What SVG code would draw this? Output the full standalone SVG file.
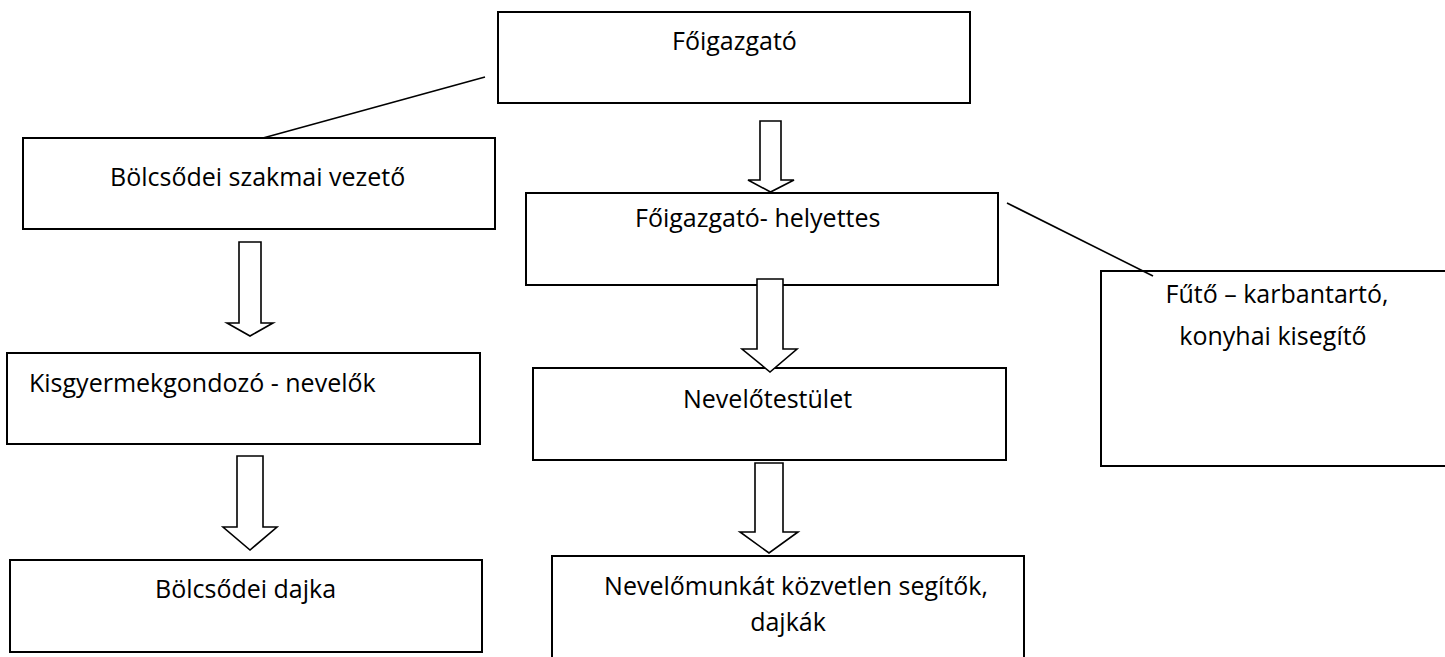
<svg xmlns="http://www.w3.org/2000/svg" width="1445" height="657" viewBox="0 0 1445 657">
<style>
.box{fill:#fff;stroke:#000;stroke-width:2}
.lbl{font-family:"Open Sans","Liberation Sans",sans-serif;font-size:25px;fill:#000}
.mid{text-anchor:middle}
.arr{fill:#fff;stroke:#000;stroke-width:1.6;stroke-linejoin:miter}
.ln{stroke:#000;stroke-width:1.6;fill:none}
</style>
<rect width="1445" height="657" fill="#fff"/>
<g id="n-foigazgato"><rect class="box" x="498" y="12" width="472" height="91"/><text class="lbl" x="672" y="50">Főigazgató</text></g>
<g id="n-bolcsodei-szakmai-vezeto"><rect class="box" x="23" y="138" width="472" height="91"/><text class="lbl" x="110" y="186">Bölcsődei szakmai vezető</text></g>
<g id="n-foigazgato-helyettes"><rect class="box" x="526" y="193" width="472" height="92"/><text class="lbl" x="635" y="227">Főigazgató- helyettes</text></g>
<g id="n-futo"><rect class="box" x="1101" y="271" width="360" height="195"/><text class="lbl mid" x="1277" y="303">Fűtő – karbantartó,</text><text class="lbl mid" x="1273" y="345">konyhai kisegítő</text></g>
<g id="n-kisgyermekgondozo"><rect class="box" x="7" y="353" width="473" height="91"/><text class="lbl" x="29" y="392">Kisgyermekgondozó - nevelők</text></g>
<g id="n-nevelotestulet"><rect class="box" x="533" y="368" width="473" height="92"/><text class="lbl" x="683" y="408">Nevelőtestület</text></g>
<g id="n-bolcsodei-dajka"><rect class="box" x="10" y="560" width="472" height="92"/><text class="lbl" x="155" y="598">Bölcsődei dajka</text></g>
<g id="n-nevelomunkat"><rect class="box" x="552" y="556" width="472" height="120"/><text class="lbl mid" x="796" y="595">Nevelőmunkát közvetlen segítők,</text><text class="lbl mid" x="788" y="631">dajkák</text></g>
<g id="connectors">
<line class="ln" x1="263" y1="138" x2="485" y2="77"/>
<line class="ln" x1="1007" y1="203" x2="1153" y2="276"/>
<polygon class="arr" points="760,121 781,121 781,180 794,180 770.5,192 748,180 760,180"/>
<polygon class="arr" points="239,242 261,242 261,323 273,323 250,336 227,323 239,323"/>
<polygon class="arr" points="237,456 263,456 263,527 277,527 250,550 223,527 237,527"/>
<polygon class="arr" points="757,279 783,279 783,349 797,349 770,372 742,349 757,349"/>
<polygon class="arr" points="755,463 783,463 783,532 798,532 769,553 740,532 755,532"/>
</g>
</svg>
